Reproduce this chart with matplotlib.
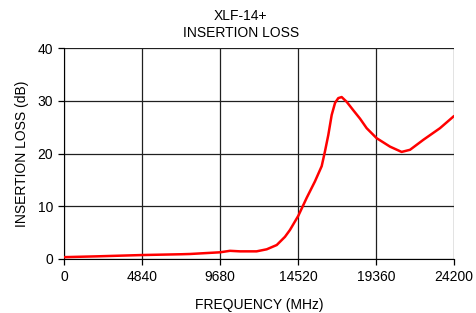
import matplotlib
matplotlib.use("Agg")
import matplotlib.pyplot as plt
import numpy as np

plt.rcParams['font.family'] = ['Liberation Sans', 'DejaVu Sans']

freq = [0, 2000, 4840, 7260, 7820, 9680, 10300, 10920, 11950, 12580, 13200, 13710,
        14020, 14540, 15060, 15570, 15990, 16200, 16400, 16610, 16820, 17020,
        17230, 17540, 17950, 18370, 18780, 19400, 19610, 20230, 20950, 21470,
        22300, 23330, 24200]
loss = [0.35, 0.5, 0.75, 0.9, 0.95, 1.27, 1.55, 1.45, 1.45, 1.84, 2.65, 4.2,
        5.5, 8.2, 11.6, 14.7, 17.6, 20.5, 23.5, 27.3, 29.6, 30.5,
        30.7, 29.8, 28.2, 26.6, 24.8, 22.9, 22.5, 21.3, 20.3, 20.7,
        22.6, 24.8, 27.1]

xticks = [0, 4840, 9680, 14520, 19360, 24200]
yticks = [0, 10, 20, 30, 40]

fig = plt.figure(figsize=(4.77, 3.13), dpi=100)
ax = fig.add_axes([64/477, 54/313, 390/477, 211/313])

ax.plot(freq, loss, color='#ff0000', lw=1.8, solid_capstyle='round',
        solid_joinstyle='round', zorder=3)

ax.set_xlim(0, 24200)
ax.set_ylim(0, 40)
ax.set_xticks(xticks)
ax.set_xticklabels([str(v) for v in xticks])
ax.set_yticks(yticks)
ax.grid(True, color='#202020', lw=0.9)
for s in ['top', 'right']:
    ax.spines[s].set_visible(False)
ax.spines['left'].set_color('black')
ax.spines['bottom'].set_color('black')
ax.tick_params(direction='out', length=4, width=0.9, labelsize=10, colors='black', pad=4)

ax.set_xlabel('FREQUENCY (MHz)', fontsize=10, labelpad=10)
ax.set_ylabel('INSERTION LOSS (dB)', fontsize=10, labelpad=6)

fig.text(0.505, 0.950, 'XLF-14+', ha='center', va='center', fontsize=10)
fig.text(0.505, 0.895, 'INSERTION LOSS', ha='center', va='center', fontsize=10)

fig.savefig('out.png', dpi=100)
